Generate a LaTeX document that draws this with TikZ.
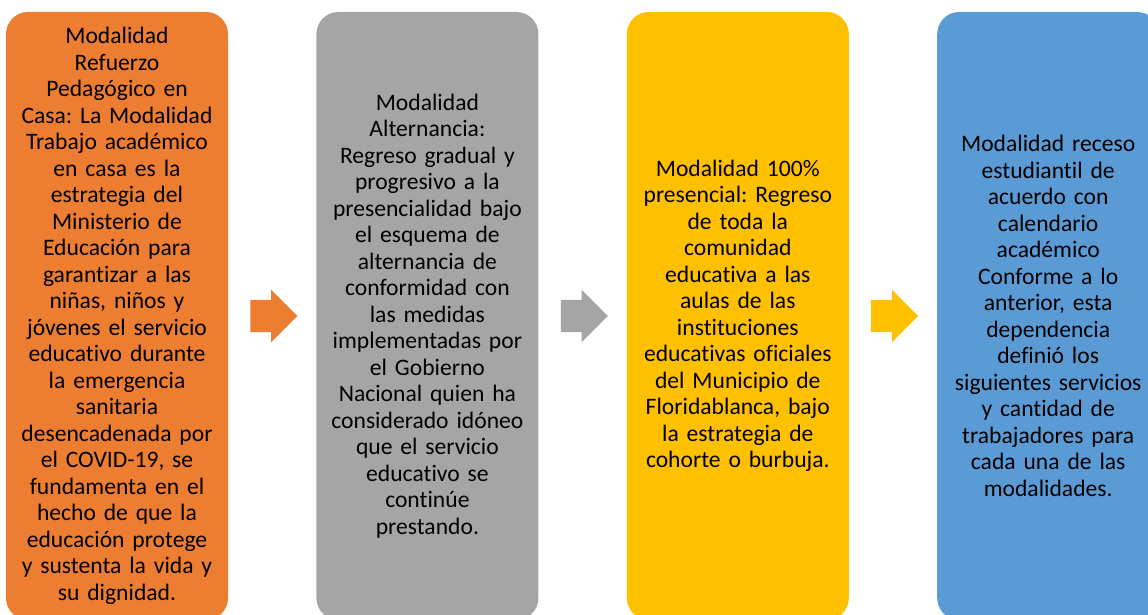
\documentclass[tikz,border=0pt]{standalone}
\usepackage{fontspec}
\setmainfont{Carlito}[Ligatures=NoCommon]
\usepackage{tikz}
\usetikzlibrary{shapes.arrows, positioning, calc}
\definecolor{myorange}{RGB}{237,125,49}
\definecolor{mygray}{RGB}{165,165,165}
\definecolor{myyellow}{RGB}{255,192,0}
\definecolor{myblue}{RGB}{91,155,213}
\tikzset{
  stagebox/.style={rectangle, fill=#1, draw=none,
    minimum width=222pt, minimum height=608pt,
    text width=214pt, align=center, inner sep=0pt,
    rounded corners=22pt,
    font=\fontsize{23.6}{26.5}\selectfont\frenchspacing},
  stagearrow/.style={single arrow, fill=#1, draw=none, anchor=tail,
    minimum height=47pt, inner xsep=0pt, inner ysep=16pt,
    single arrow head extend=10pt, single arrow head indent=0pt}
}
\begin{document}
\begin{tikzpicture}[x=1pt, y=1pt]
  \useasboundingbox (0,0) rectangle (1148,615);
  \clip (0,0) rectangle (1148,615);
  % Stage boxes
  \node[stagebox=myorange] (refuerzo) at (117,299)
    {Modalidad\\ Refuerzo\\ Pedagógico en\\ Casa: La Modalidad\\ Trabajo académico\\
     en casa es la\\ estrategia del\\ Ministerio de\\ Educación para\\ garantizar a las\\
     niñas, niños y\\ jóvenes el servicio\\ educativo durante\\ la emergencia\\ sanitaria\\
     desencadenada por\\ el COVID-19, se\\ fundamenta en el\\ hecho de que la\\
     educación protege\\ y sustenta la vida y\\ su dignidad.};
  \node[stagebox=mygray, right=88pt of refuerzo] (alternancia)
    {Modalidad\\ Alternancia:\\ Regreso gradual y\\ progresivo a la\\ presencialidad bajo\\
     el esquema de\\ alternancia de\\ conformidad con\\ las medidas\\ implementadas por\\
     el Gobierno\\ Nacional quien ha\\ considerado idóneo\\ que el servicio\\
     educativo se\\ continúe\\ prestando.};
  \node[stagebox=myyellow, right=88pt of alternancia] (presencial)
    {Modalidad 100\%\\ presencial: Regreso\\ de toda la\\ comunidad\\ educativa a las\\
     aulas de las\\ instituciones\\ educativas oficiales\\ del Municipio de\\
     Floridablanca, bajo\\ la estrategia de\\ cohorte o burbuja.};
  \node[stagebox=myblue, right=88pt of presencial] (receso)
    {Modalidad receso\\ estudiantil de\\ acuerdo con\\ calendario\\ académico\\
     Conforme a lo\\ anterior, esta\\ dependencia\\ definió los\\ siguientes servicios\\
     y cantidad de\\ trabajadores para\\ cada una de las\\ modalidades.};
  % Arrows between stages
  \node[stagearrow=myorange] (a1) at ($(refuerzo.east)+(22pt,0)$) {};
  \node[stagearrow=mygray] (a2) at ($(alternancia.east)+(22pt,0)$) {};
  \node[stagearrow=myyellow] (a3) at ($(presencial.east)+(22pt,0)$) {};
\end{tikzpicture}
\end{document}
